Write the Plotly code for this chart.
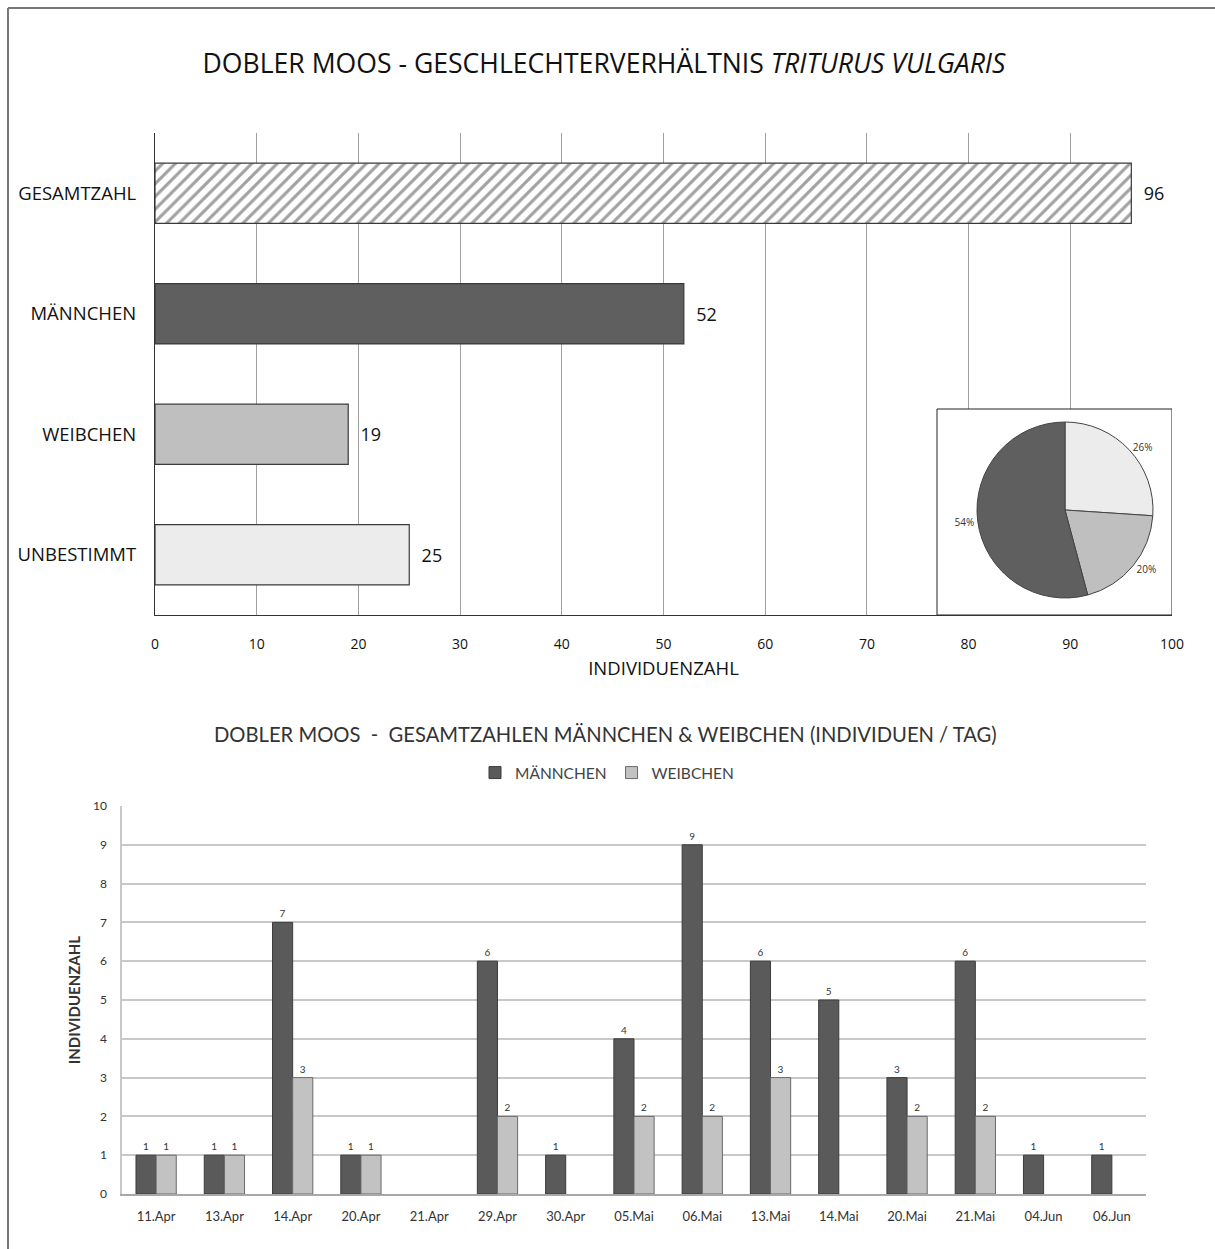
import plotly.graph_objects as go

W, H = 1215, 1249

# ---------- data ----------
cat_top = ["GESAMTZAHL", "MÄNNCHEN", "WEIBCHEN", "UNBESTIMMT"]
val_top = [96, 52, 19, 25]

pie_labels = ["UNBESTIMMT", "WEIBCHEN", "MÄNNCHEN"]
pie_values = [25, 19, 52]

dates = ["11.Apr", "13.Apr", "14.Apr", "20.Apr", "21.Apr", "29.Apr", "30.Apr", "05.Mai",
         "06.Mai", "13.Mai", "14.Mai", "20.Mai", "21.Mai", "04.Jun", "06.Jun"]
maennchen = [1, 1, 7, 1, None, 6, 1, 4, 9, 6, 5, 3, 6, 1, 1]
weibchen = [1, 1, 3, 1, None, 2, None, 2, 2, 3, None, 2, 2, None, None]

x_ticks_top = list(range(0, 101, 10))
y_ticks_bottom = list(range(0, 11))

# ---------- helpers (screen pixel -> paper) ----------
def px_x(p):
    return p / W

def px_y(p):
    return 1 - p / H

C_DARK = "#5f5f5f"
C_MID = "#bfbfbf"
C_LIGHT = "#ececec"
TOPFONT = "Open Sans"
BOTFONT = "Lato"

fig = go.Figure()

# ---------- top horizontal bars ----------
fig.add_trace(go.Bar(
    y=cat_top, x=val_top, orientation="h", width=0.5,
    marker=dict(
        color=["white", C_DARK, C_MID, C_LIGHT],
        line=dict(color="#3a3a3a", width=1.2),
        pattern=dict(shape=["/", "", "", ""], fgcolor="#a8a8a8", size=9,
                     solidity=0.35, fillmode="overlay"),
    ),
    texttemplate="  %{x}", textposition="outside",
    textfont=dict(family=TOPFONT, size=18, color="#111"),
    cliponaxis=False, showlegend=False, xaxis="x", yaxis="y",
))

# ---------- bottom grouped bars ----------
fig.add_trace(go.Bar(
    x=dates, y=maennchen, name="MÄNNCHEN",
    marker=dict(color="#5a5a5a", line=dict(color="#3c3c3c", width=1)),
    texttemplate="%{y}", textposition="outside",
    textfont=dict(family=BOTFONT, size=10, color="#333"),
    cliponaxis=False, xaxis="x2", yaxis="y2",
))
fig.add_trace(go.Bar(
    x=dates, y=weibchen, name="WEIBCHEN",
    marker=dict(color="#c2c2c2", line=dict(color="#6a6a6a", width=1)),
    texttemplate="%{y}", textposition="outside",
    textfont=dict(family=BOTFONT, size=10, color="#333"),
    cliponaxis=False, xaxis="x2", yaxis="y2",
))

# ---------- pie inset ----------
cx, cy, r = 1065, 510, 88
fig.add_trace(go.Pie(
    labels=pie_labels, values=pie_values, sort=False, direction="clockwise", rotation=0,
    marker=dict(colors=[C_LIGHT, C_MID, C_DARK], line=dict(color="#444", width=1)),
    texttemplate="%{percent:.0%}", textposition="outside",
    textfont=dict(family=TOPFONT, size=10, color="#333"),
    domain=dict(x=[px_x(cx - r), px_x(cx + r)], y=[px_y(cy + r), px_y(cy - r)]),
    showlegend=False, hoverinfo="label+value+percent", automargin=False,
))

# inset box in data coords of the top subplot
box_x0 = (937 - 155) / (1172 - 155) * 100
box_ytop = (409 - 133) / (615 - 133) * 4 - 0.5

fig.update_layout(
    template="none",
    width=W, height=H,
    margin=dict(l=0, r=0, t=0, b=0, pad=0, autoexpand=False),
    paper_bgcolor="white", plot_bgcolor="white",
    barmode="group", bargap=0.41, bargroupgap=0,
    title=dict(
        text="DOBLER MOOS - GESCHLECHTERVERHÄLTNIS <i>TRITURUS VULGARIS</i>",
        x=px_x(604), xanchor="center", y=px_y(64), yanchor="middle",
        font=dict(family=TOPFONT, size=26.6, color="#111"), automargin=False,
    ),
    xaxis=dict(
        domain=[px_x(155), px_x(1172)], range=[0, 100], automargin=False,
        tickvals=x_ticks_top, showgrid=True, gridcolor="#a0a0a0", gridwidth=1,
        showline=True, linecolor="#333", linewidth=1.2, zeroline=False,
        ticks="", ticklabelstandoff=16,
        tickfont=dict(family=TOPFONT, size=14, color="#111"),
        title=dict(text="INDIVIDUENZAHL", standoff=10,
                   font=dict(family=TOPFONT, size=18.5, color="#111")),
        anchor="y", fixedrange=True,
    ),
    yaxis=dict(
        domain=[px_y(615), px_y(133)], range=[3.5, -0.5], automargin=False,
        categoryorder="array", categoryarray=cat_top,
        showline=True, linecolor="#333", linewidth=1.2, showgrid=False,
        ticks="", ticklabelstandoff=14,
        tickfont=dict(family=TOPFONT, size=18.5, color="#111"),
        anchor="x", fixedrange=True,
    ),
    xaxis2=dict(
        domain=[px_x(122), px_x(1146)], automargin=False,
        showline=True, linecolor="#a8a8a8", linewidth=1.5, showgrid=False,
        ticks="", ticklabelstandoff=10,
        tickfont=dict(family=BOTFONT, size=13, color="#333"),
        anchor="y2", fixedrange=True,
    ),
    yaxis2=dict(
        domain=[px_y(1194), px_y(806)], range=[0, 10], automargin=False,
        tickvals=y_ticks_bottom, showgrid=True, gridcolor="#c8c8c8", gridwidth=1.5,
        showline=True, linecolor="#c8c8c8", linewidth=1.5, zeroline=False,
        ticks="", ticklabelstandoff=11,
        tickfont=dict(family=BOTFONT, size=12, color="#333"),
        title=dict(text="<b>INDIVIDUENZAHL</b>", standoff=9,
                   font=dict(family=BOTFONT, size=15, color="#333")),
        anchor="x2", fixedrange=True,
    ),
    legend=dict(
        orientation="h", x=px_x(607), xanchor="center", y=px_y(773), yanchor="middle",
        font=dict(family=BOTFONT, size=15.5, color="#444"),
        itemwidth=30, traceorder="normal", bgcolor="rgba(0,0,0,0)",
    ),
    annotations=[dict(
        text="DOBLER MOOS  -  GESAMTZAHLEN MÄNNCHEN &amp; WEIBCHEN (INDIVIDUEN / TAG)",
        xref="paper", yref="paper", x=px_x(605), y=px_y(734),
        xanchor="center", yanchor="middle", showarrow=False,
        font=dict(family=BOTFONT, size=20.2, color="#333"),
    )],
    shapes=[
        dict(type="rect", xref="x", yref="y", x0=box_x0, x1=100,
             y0=3.5, y1=box_ytop, layer="between",
             fillcolor="white", line=dict(color="#222", width=1)),
        dict(type="line", xref="paper", yref="paper", x0=px_x(8), x1=px_x(8),
             y0=0, y1=px_y(8), line=dict(color="#777", width=2)),
        dict(type="line", xref="paper", yref="paper", x0=px_x(8), x1=1,
             y0=px_y(8), y1=px_y(8), line=dict(color="#777", width=2)),
    ],
)

fig.write_html(
    "out.html",
    config=dict(displayModeBar=False),
    post_script="document.body.style.margin='0';document.body.style.padding='0';"
                "document.body.style.overflow='hidden';"
                "document.documentElement.style.overflow='hidden';",
)
